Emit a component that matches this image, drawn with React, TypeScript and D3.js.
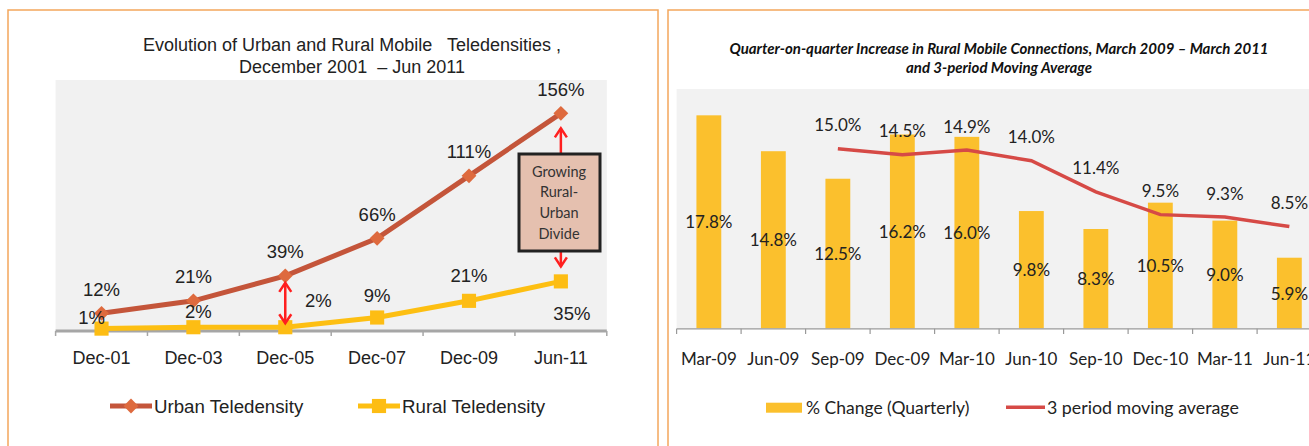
import * as d3 from 'd3';
import React from 'react';

// left chart: teledensity
const periods = ['Dec-01', 'Dec-03', 'Dec-05', 'Dec-07', 'Dec-09', 'Jun-11'];
const urbanTeledensity = [12, 21, 39, 66, 111, 156];
const ruralTeledensity = [1, 2, 2, 9, 21, 35];

// right chart: quarterly rural increase
const quarters = ['Mar-09', 'Jun-09', 'Sep-09', 'Dec-09', 'Mar-10', 'Jun-10', 'Sep-10', 'Dec-10', 'Mar-11', 'Jun-11'];
const quarterlyChange = [17.8, 14.8, 12.5, 16.2, 16.0, 9.8, 8.3, 10.5, 9.0, 5.9];
const movingAverage = [null, null, 15.0, 14.5, 14.9, 14.0, 11.4, 9.5, 9.3, 8.5];

const ARIAL = '"Liberation Sans", Arial, sans-serif';
const CALIBRI = 'Lato, "Open Sans", sans-serif';
const BORDER = '#f3a75c';

// nudges for the rural labels so they don't sit on the line (dx, dy)
const ruralLabelNudge = [[-10, -11], [5, -16], [33, -27], [0, -22], [0, -25], [11, 32]];

function Chevron({ x, y, dir }) {
  const s = dir === 'up' ? 1 : -1;
  return <path d={`M${x - 6},${y + 9 * s} L${x},${y} L${x + 6},${y + 9 * s}`} fill="none" stroke="#ff1f1f" strokeWidth={2.5} />;
}

function TeledensityChart() {
  const x = d3.scaleBand().domain(periods).range([55.6, 606.8]).padding(0);
  const y = d3.scaleLinear().domain([0, 180]).range([330, 80]);
  const cx = (d) => x(d) + x.bandwidth() / 2;
  const line = d3.line().x((d, i) => cx(periods[i])).y((d) => y(d));
  const diamond = d3.symbol(d3.symbolSquare, 110)();
  const square = d3.symbol(d3.symbolSquare, 200)();
  const boundaries = [...periods.map((p) => x(p)), x.range()[1]];
  const arrowX = cx('Jun-11');
  const midX = cx('Dec-05');

  return (
    <g>
      <rect x={8} y={10} width={650} height={460} fill="#fff" stroke={BORDER} strokeWidth={1.5} />
      <text x={352} y={45} textAnchor="middle" dominantBaseline="central" fontFamily={ARIAL} fontSize={18} fill="#222" style={{ whiteSpace: 'pre' }}>
        {'Evolution of Urban and Rural Mobile   Teledensities ,'}
      </text>
      <text x={352} y={67} textAnchor="middle" dominantBaseline="central" fontFamily={ARIAL} fontSize={18} fill="#222" style={{ whiteSpace: 'pre' }}>
        {'December 2001  – Jun 2011'}
      </text>
      <rect x={x.range()[0]} y={80} width={x.range()[1] - x.range()[0]} height={251} fill="#f1f1f1" />

      {/* axis */}
      <line x1={x.range()[0]} x2={x.range()[1]} y1={331} y2={331} stroke="#a6a6a6" strokeWidth={3} />
      {boundaries.map((b, i) => (
        <line key={i} x1={b} x2={b} y1={331} y2={336} stroke="#a6a6a6" strokeWidth={1.5} />
      ))}
      {periods.map((p) => (
        <text key={p} x={cx(p)} y={358} textAnchor="middle" dominantBaseline="central" fontFamily={ARIAL} fontSize={18} fill="#222">{p}</text>
      ))}

      {/* lines */}
      <path d={line(urbanTeledensity)} fill="none" stroke="#c4553a" strokeWidth={5} />
      <path d={line(ruralTeledensity)} fill="none" stroke="#fdbf12" strokeWidth={5} />
      {urbanTeledensity.map((v, i) => (
        <path key={i} d={diamond} transform={`translate(${cx(periods[i])},${y(v)}) rotate(45)`} fill="#de6a3e" />
      ))}
      {ruralTeledensity.map((v, i) => (
        <path key={i} d={square} transform={`translate(${cx(periods[i])},${y(v)})`} fill="#fdbd14" />
      ))}

      {/* labels */}
      {urbanTeledensity.map((v, i) => (
        <text key={i} x={cx(periods[i])} y={y(v) - 24} textAnchor="middle" dominantBaseline="central" fontFamily={ARIAL} fontSize={18.5} fill="#222">{v}%</text>
      ))}
      {ruralTeledensity.map((v, i) => (
        <text key={i} x={cx(periods[i]) + ruralLabelNudge[i][0]} y={y(v) + ruralLabelNudge[i][1]} textAnchor="middle" dominantBaseline="central" fontFamily={ARIAL} fontSize={18.5} fill="#222">{v}%</text>
      ))}

      {/* divide annotation */}
      <line x1={midX} x2={midX} y1={y(urbanTeledensity[2]) + 7} y2={y(ruralTeledensity[2]) - 4} stroke="#ff1f1f" strokeWidth={2.5} />
      <Chevron x={midX} y={y(urbanTeledensity[2]) + 7} dir="up" />
      <Chevron x={midX} y={y(ruralTeledensity[2]) - 4} dir="down" />
      <line x1={arrowX} x2={arrowX} y1={y(urbanTeledensity[5]) + 15} y2={153} stroke="#ff1f1f" strokeWidth={2.5} />
      <Chevron x={arrowX} y={y(urbanTeledensity[5]) + 15} dir="up" />
      <line x1={arrowX} x2={arrowX} y1={251} y2={y(ruralTeledensity[5]) - 15} stroke="#ff1f1f" strokeWidth={2.5} />
      <Chevron x={arrowX} y={y(ruralTeledensity[5]) - 15} dir="down" />
      <rect x={519} y={154} width={81} height={97} fill="#e5c0af" stroke="#222" strokeWidth={3} />
      {['Growing', 'Rural-', 'Urban', 'Divide'].map((t, i) => (
        <text key={t} x={559} y={171 + i * 20.7} textAnchor="middle" dominantBaseline="central" fontFamily={CALIBRI} fontSize={14.5} fill="#333">{t}</text>
      ))}

      {/* legend */}
      <line x1={110} x2={152} y1={406} y2={406} stroke="#c4553a" strokeWidth={5} />
      <path d={diamond} transform="translate(131,406) rotate(45)" fill="#de6a3e" />
      <text x={154} y={406} dominantBaseline="central" fontFamily={ARIAL} fontSize={18.7} fill="#222">Urban Teledensity</text>
      <line x1={358} x2={400} y1={406} y2={406} stroke="#fdbf12" strokeWidth={5} />
      <path d={square} transform="translate(379,406)" fill="#fdbd14" />
      <text x={402} y={406} dominantBaseline="central" fontFamily={ARIAL} fontSize={18.7} fill="#222">Rural Teledensity</text>
    </g>
  );
}

function RuralIncreaseChart() {
  const x0 = 676.6;
  const band = d3.scaleBand().domain(quarters).range([x0, x0 + 64.5 * quarters.length]);
  const y = d3.scaleLinear().domain([0, 20]).range([328.3, 89]);
  const cx = (d) => band(d) + band.bandwidth() / 2;
  const barW = band.bandwidth() * 0.385;
  const maPoints = movingAverage.map((v, i) => [quarters[i], v]).filter((d) => d[1] != null);
  const line = d3.line().x((d) => cx(d[0])).y((d) => y(d[1]));
  const boundaries = [...quarters.map((q) => band(q)), band.range()[1]];

  return (
    <g>
      <rect x={668} y={10} width={700} height={460} fill="#fff" stroke={BORDER} strokeWidth={1.5} />
      <text x={999} y={48} textAnchor="middle" dominantBaseline="central" fontFamily={CALIBRI} fontSize={15} fontStyle="italic" fontWeight="bold" fill="#111">
        Quarter-on-quarter Increase in Rural Mobile Connections, March 2009 – March 2011
      </text>
      <text x={999} y={67} textAnchor="middle" dominantBaseline="central" fontFamily={CALIBRI} fontSize={15} fontStyle="italic" fontWeight="bold" fill="#111">
        and 3-period Moving Average
      </text>
      <rect x={x0} y={89} width={700} height={239.3} fill="#f2f2f2" />

      {quarterlyChange.map((v, i) => (
        <rect key={i} x={cx(quarters[i]) - barW / 2} y={y(v)} width={barW} height={y(0) - y(v)} fill="#fbc02d" />
      ))}

      <line x1={x0} x2={1320} y1={328.8} y2={328.8} stroke="#999" strokeWidth={1.2} />
      {boundaries.map((b, i) => (
        <line key={i} x1={b} x2={b} y1={328.8} y2={334} stroke="#999" strokeWidth={1.2} />
      ))}
      {quarters.map((q) => (
        <text key={q} x={cx(q)} y={358} textAnchor="middle" dominantBaseline="central" fontFamily={CALIBRI} fontSize={17} fill="#222">{q}</text>
      ))}

      <path d={line(maPoints)} fill="none" stroke="#d64a46" strokeWidth={3.5} />

      {quarterlyChange.map((v, i) => (
        <text key={i} x={cx(quarters[i])} y={(y(v) + y(0)) / 2} textAnchor="middle" dominantBaseline="central" fontFamily={CALIBRI} fontSize={17} fill="#222">{v.toFixed(1)}%</text>
      ))}
      {maPoints.map((d) => (
        <text key={d[0]} x={cx(d[0])} y={y(d[1]) - 24} textAnchor="middle" dominantBaseline="central" fontFamily={CALIBRI} fontSize={17} fill="#222">{d[1].toFixed(1)}%</text>
      ))}

      {/* legend */}
      <rect x={766} y={402.7} width={36} height={10} fill="#fbc02d" />
      <text x={806} y={407} dominantBaseline="central" fontFamily={CALIBRI} fontSize={17.5} fill="#222">% Change (Quarterly)</text>
      <line x1={1006} x2={1045} y1={407.3} y2={407.3} stroke="#d64a46" strokeWidth={3.5} />
      <text x={1047} y={407} dominantBaseline="central" fontFamily={CALIBRI} fontSize={17.8} fill="#222">3 period moving average</text>
    </g>
  );
}

export default function App() {
  return (
    <div style={{ position: 'absolute', left: 0, top: 0 }}>
      <svg width={1309} height={446} style={{ display: 'block', background: '#fff' }}>
        <TeledensityChart />
        <RuralIncreaseChart />
      </svg>
    </div>
  );
}
